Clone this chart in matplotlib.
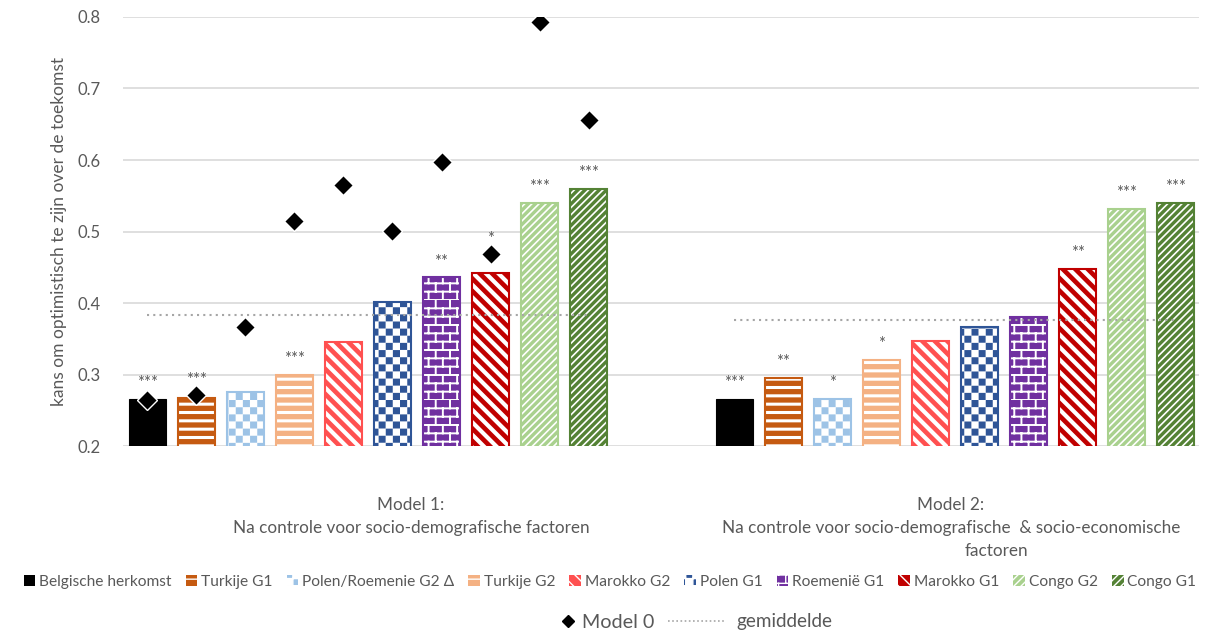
import warnings
import numpy as np
import matplotlib
matplotlib.use('Agg')
import matplotlib.pyplot as plt
import matplotlib.hatch as mhatch
from matplotlib.path import Path
from matplotlib.patches import Patch
from matplotlib.lines import Line2D

warnings.filterwarnings('ignore')

# data
group_lines = [['Model 1:', 'Na controle voor socio-demografische factoren'],
               ['Model 2:', 'Na controle voor socio-demografische  & socio-economische', 'factoren']]
labels = ['Belgische herkomst', 'Turkije G1', 'Polen/Roemenie G2 Δ', 'Turkije G2', 'Marokko G2',
          'Polen G1', 'Roemenië G1', 'Marokko G1', 'Congo G2', 'Congo G1']
model1 = [0.266, 0.267, 0.275, 0.300, 0.345, 0.401, 0.436, 0.442, 0.540, 0.560]
model2 = [0.266, 0.295, 0.266, 0.320, 0.347, 0.366, 0.380, 0.448, 0.532, 0.540]
model0 = [0.265, 0.271, 0.366, 0.515, 0.565, 0.501, 0.597, 0.468, 0.793, 0.656]
sig1 = ['***', '***', '', '***', '', '', '**', '*', '***', '***']
sig2 = ['***', '**', '*', '*', '', '', '', '**', '***', '***']
mean1 = 0.383
mean2 = 0.376
yticks = [0.2, 0.3, 0.4, 0.5, 0.6, 0.7, 0.8]

# styles
colors = ['#000000', '#C55A11', '#9DC3E6', '#F4B183', '#FF5050',
          '#2F5597', '#7030A0', '#C00000', '#A9D18E', '#548235']
hatches = [None, '--', 'k', '--', 'd', 'k', 'b', 'd', 'u', 'u']
hlws = [1.0, 2.2, 0.1, 2.2, 3.0, 0.1, 1.4, 3.0, 1.2, 1.2]
gray = '#595959'
label_x = [[0.073, 0.073], [0.993, 0.993, 1.070]]   # group label centres (data units)
label_y = [-0.137, -0.191, -0.245]                   # line centres (axes fraction)


# excel-like fill patterns: checkerboard ('k'), bricks ('b'),
# wide downward diagonal ('d') and dense upward diagonal ('u')
class CheckerHatch(mhatch.HatchPatternBase):
    def __init__(self, hatch, density):
        self.n = 14 if 'k' in hatch else 0
        self.num_vertices = (self.n * self.n // 2) * 5

    def set_vertices_and_codes(self, vertices, codes):
        n = self.n
        k = 0
        for i in range(n):
            for j in range(n):
                if (i + j) % 2:
                    continue
                x0, y0, x1, y1 = i / n, j / n, (i + 1) / n, (j + 1) / n
                vertices[k:k + 5] = [(x0, y0), (x1, y0), (x1, y1), (x0, y1), (x0, y0)]
                codes[k:k + 5] = [Path.MOVETO, Path.LINETO, Path.LINETO, Path.LINETO, Path.CLOSEPOLY]
                k += 5


class BrickHatch(mhatch.HatchPatternBase):
    def __init__(self, hatch, density):
        self.rows = 12 if 'b' in hatch else 0
        self.cols = 7
        self.num_vertices = self.rows * 2 * (1 + self.cols)

    def set_vertices_and_codes(self, vertices, codes):
        k = 0
        for r in range(self.rows):
            y0, y1 = r / self.rows, (r + 1) / self.rows
            vertices[k:k + 2] = [(0, y0), (1, y0)]
            codes[k:k + 2] = [Path.MOVETO, Path.LINETO]
            k += 2
            shift = 0.5 if r % 2 else 0.0
            for c in range(self.cols):
                x = (c + shift) / self.cols
                vertices[k:k + 2] = [(x, y0), (x, y1)]
                codes[k:k + 2] = [Path.MOVETO, Path.LINETO]
                k += 2


class DiagHatch(mhatch.HatchPatternBase):
    def __init__(self, hatch, density):
        self.down = 'd' in hatch
        self.up = 'u' in hatch
        self.num_lines = 16 if self.down else (28 if self.up else 0)
        self.num_vertices = (self.num_lines + 1) * 2 if self.num_lines else 0

    def set_vertices_and_codes(self, vertices, codes):
        steps = np.linspace(-0.5, 0.5, self.num_lines + 1)
        if self.down:
            vertices[0::2, 0] = 0.0 + steps
            vertices[0::2, 1] = 1.0 + steps
            vertices[1::2, 0] = 1.0 + steps
            vertices[1::2, 1] = 0.0 + steps
        else:
            vertices[0::2, 0] = 0.0 + steps
            vertices[0::2, 1] = 0.0 - steps
            vertices[1::2, 0] = 1.0 + steps
            vertices[1::2, 1] = 1.0 - steps
        codes[0::2] = Path.MOVETO
        codes[1::2] = Path.LINETO


mhatch._hatch_types.extend([CheckerHatch, BrickHatch, DiagHatch])


def patterned_bar(ax, x, h, width, i):
    if hatches[i] is None:
        ax.bar(x, h, width, color=colors[i], edgecolor=colors[i], linewidth=0.8, zorder=2)
        return
    with plt.rc_context({'hatch.linewidth': hlws[i]}):
        b = ax.bar(x, h, width, color=colors[i], edgecolor='white', linewidth=0,
                   hatch=hatches[i], zorder=2)
        for p in b:
            if hasattr(p, 'set_hatch_linewidth'):
                p.set_hatch_linewidth(hlws[i])
    ax.bar(x, h, width, fill=False, edgecolor=colors[i], linewidth=1.5, zorder=3)


plt.rcParams['font.family'] = ['Lato', 'DejaVu Sans']
fig = plt.figure(figsize=(12.2, 6.34), dpi=100)
ax = fig.add_axes([0.1008, 0.2965, 0.8820, 0.6767])

n = len(labels)
step = 0.0835
width = 0.064
offsets = (np.arange(n) - (n - 1) / 2) * step

for g, vals, sig in [(0, model1, sig1), (1, model2, sig2)]:
    for i in range(n):
        x = g + offsets[i]
        patterned_bar(ax, x, vals[i], width, i)
        base = vals[i]
        if g == 0 and 0 < model0[i] - vals[i] < 0.05:
            base = model0[i]
        if sig[i]:
            ax.text(x, base + 0.022, sig[i], ha='center', va='center',
                    fontsize=12, color=gray, zorder=5)

# gemiddelde lines
ax.plot([offsets[0], offsets[-1]], [mean1, mean1], color='#A6A6A6', linestyle=(0, (1, 2)),
        linewidth=1.5, zorder=4)
ax.plot([1 + offsets[0], 1 + offsets[-1]], [mean2, mean2], color='#A6A6A6', linestyle=(0, (1, 2)),
        linewidth=1.5, zorder=4)

# model 0 diamonds
ax.plot(offsets, model0, linestyle='none', marker='D', markersize=10, color='black',
        markeredgecolor='white', markeredgewidth=1, zorder=6)

ax.set_xlim(-0.4174, 1.4157)
ax.set_ylim(0.2, 0.8)
ax.set_yticks(yticks)
ax.set_yticklabels([f'{t:.1f}' for t in yticks], fontsize=12, color=gray)
ax.set_xticks([])
ax.tick_params(axis='both', length=0)
ax.tick_params(axis='y', pad=16)
ax.grid(axis='y', color='#D9D9D9', linewidth=1.2, zorder=0)
ax.set_axisbelow(True)
for s in ax.spines.values():
    s.set_visible(False)
ax.set_ylabel('kans om optimistisch te zijn over de toekomst', fontsize=12.5, color=gray, labelpad=8)

# category labels under the groups
trans = ax.get_xaxis_transform()
for lines, xs in zip(group_lines, label_x):
    for line, xl, yl in zip(lines, xs, label_y):
        ax.text(xl, yl, line, transform=trans, ha='center', va='center',
                fontsize=12.3, color=gray)

# legends
handles = []
for i in range(n):
    with plt.rc_context({'hatch.linewidth': min(hlws[i], 1.0)}):
        handles.append(Patch(facecolor=colors[i], edgecolor=colors[i] if hatches[i] is None else 'white',
                             hatch=hatches[i], linewidth=0))
leg1 = fig.legend(handles, labels, ncol=10, loc='center', bbox_to_anchor=(0.5, 1 - 582 / 634),
                  frameon=False, handlelength=0.75, handleheight=0.75, handletextpad=0.25,
                  columnspacing=0.9, fontsize=11.2, labelcolor=gray)
leg2 = fig.legend([Line2D([], [], linestyle='none', marker='D', markersize=6, color='black')],
                  ['Model 0'], loc='center', bbox_to_anchor=(608 / 1220, 1 - 622 / 634),
                  frameon=False, handlelength=0.6, handletextpad=0.4, fontsize=14.2, labelcolor=gray)
leg3 = fig.legend([Line2D([], [], color='#A6A6A6', linestyle=(0, (1, 1.5)), linewidth=1.2)],
                  ['gemiddelde'], loc='center', bbox_to_anchor=(750 / 1220, 1 - 622 / 634),
                  frameon=False, handlelength=3.0, handletextpad=0.6, fontsize=13.6, labelcolor=gray)

fig.savefig('out.png', dpi=100)
